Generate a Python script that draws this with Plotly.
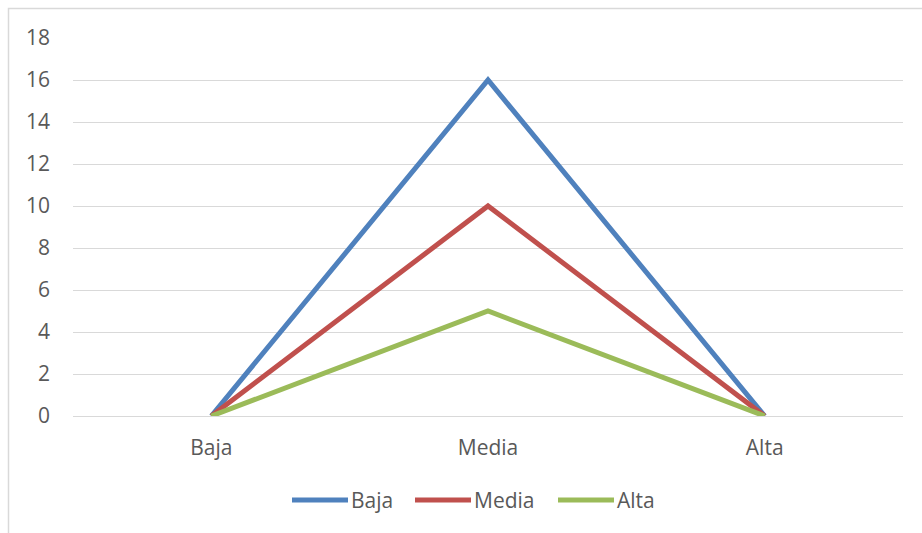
import plotly.graph_objects as go

# Categories on the x axis and the value of each series at each category
categories = ["Baja", "Media", "Alta"]
baja = [0, 16, 0]
media = [0, 10, 0]
alta = [0, 5, 0]
y_ticks = [0, 2, 4, 6, 8, 10, 12, 14, 16, 18]

series = [
    ("Baja", baja, "#4F81BD"),
    ("Media", media, "#C0504D"),
    ("Alta", alta, "#9BBB59"),
]

# Plot-area geometry in pixels (used to place the legend and the frame)
W, H = 922, 533
L, R, T, B = 73, 19, 38, 117
PW, PH = W - L - R, H - T - B


def px_x(px):
    return (px - L) / PW


def px_y(py):
    return (H - B - py) / PH


text_font = dict(family="Open Sans, sans-serif", size=21, color="#595959")

fig = go.Figure()
for name, values, color in series:
    fig.add_trace(go.Scatter(
        x=[0, 1, 2], y=values, name=name, mode="lines",
        line=dict(color=color, width=5), showlegend=False,
    ))

# Legend drawn as short line segments followed by the series name
legend_starts = [292, 415, 558]
legend_y = 500
shapes = [dict(
    type="rect", xref="paper", yref="paper",
    x0=px_x(8.5), x1=px_x(W + 20), y0=px_y(H + 20), y1=px_y(8.5),
    line=dict(color="#D9D9D9", width=1.5), layer="below",
)]
annotations = []
for (name, _, color), start in zip(series, legend_starts):
    shapes.append(dict(
        type="line", xref="paper", yref="paper",
        x0=px_x(start), x1=px_x(start + 56), y0=px_y(legend_y), y1=px_y(legend_y),
        line=dict(color=color, width=5),
    ))
    annotations.append(dict(
        xref="paper", yref="paper", x=px_x(start + 57), y=px_y(legend_y),
        xanchor="left", yanchor="middle", text=name, showarrow=False,
        font=text_font,
    ))

fig.update_layout(
    width=W, height=H,
    margin=dict(l=L, r=R, t=T, b=B),
    paper_bgcolor="white", plot_bgcolor="white",
    font=text_font,
    showlegend=False,
    xaxis=dict(
        range=[-0.5, 2.5], tickvals=[0, 1, 2], ticktext=categories,
        showgrid=False, zeroline=False, showline=False, ticks="",
        ticklabelstandoff=17, fixedrange=True,
    ),
    yaxis=dict(
        range=[0, 18], tickvals=y_ticks, showgrid=True, gridcolor="#D9D9D9",
        gridwidth=1.2, zeroline=True, zerolinecolor="#D9D9D9", zerolinewidth=1.2,
        showline=False, ticks="", ticklabelstandoff=22, fixedrange=True,
    ),
    shapes=shapes,
    annotations=annotations,
)

fig.write_html("out.html")
